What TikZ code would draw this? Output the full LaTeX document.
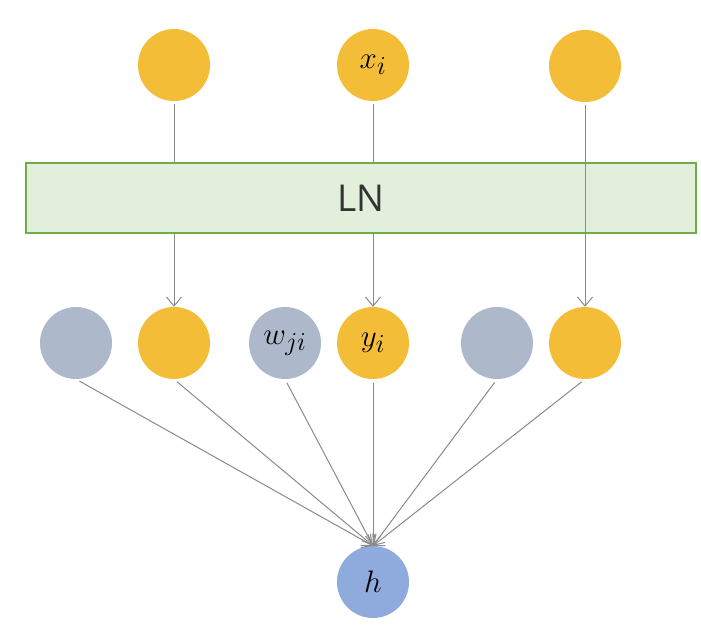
\documentclass[tikz,border=0pt]{standalone}
\usepackage{graphicx}
\usepackage{fontspec}
\setsansfont{Open Sans}
\usetikzlibrary{arrows.meta}
\definecolor{unitgold}{HTML}{F4BD38}
\definecolor{weightgrey}{HTML}{ADB9CA}
\definecolor{hiddenblue}{HTML}{8FAADC}
\definecolor{lnfill}{HTML}{E2EFDA}
\definecolor{lnedge}{HTML}{70AD47}
\definecolor{wire}{HTML}{8A8A8A}
% math labels inside the units, enlarged past the largest fixed math size
\newcommand{\unitlabel}[1]{\scalebox{1.25}{$#1$}}
\tikzset{
  unit/.style={circle, minimum size=72pt, inner sep=0pt, draw=none,
    font=\fontsize{24.88}{27}\selectfont},
  goldunit/.style={unit, fill=unitgold},
  greyunit/.style={unit, fill=weightgrey},
  blueunit/.style={unit, fill=hiddenblue},
  lnbox/.style={draw=lnedge, line width=2.5pt, fill=lnfill, minimum width=670pt,
    minimum height=70pt, inner sep=0pt, text=black!80,
    font=\sffamily\fontsize{37}{40}\selectfont},
  wirearrow/.style={draw=wire, line width=1pt,
    -{Straight Barb[length=9pt,width=15pt]}},
}
\begin{document}
\begin{tikzpicture}[x=1pt,y=-1pt]
\useasboundingbox (0,0) rectangle (701,625);
% input units
\node[goldunit] (x1) at (174,65) {};
\node[goldunit] (x2) at (373,65) {\unitlabel{x_i}};
\node[goldunit] (x3) at (585,66) {};
% normalized units and weights
\node[greyunit] (w1) at (76,343) {};
\node[goldunit] (y1) at (174,343) {};
\node[greyunit] (w2) at (285,343) {\unitlabel{w_{ji}}};
\node[goldunit] (y2) at (373,343) {\unitlabel{y_i}};
\node[greyunit] (w3) at (497,343) {};
\node[goldunit] (y3) at (585,343) {};
% output unit
\node[blueunit] (h) at (373,582) {\unitlabel{h}};
% inputs through the normalization layer
\draw[wirearrow, shorten <=3pt] (x1) -- (y1);
\draw[wirearrow, shorten <=3pt] (x2) -- (y2);
\node[lnbox] (ln) at (361,198) {LN};
\draw[wirearrow, shorten <=3pt] (x3) -- (y3);
% everything feeds the output unit, leaving from the bottom of each unit
\foreach \s in {w1,y1,w2,y2,w3,y3}
  \draw[wirearrow, shorten <=4pt] (\s.south) -- (h.north);
\end{tikzpicture}
\end{document}
